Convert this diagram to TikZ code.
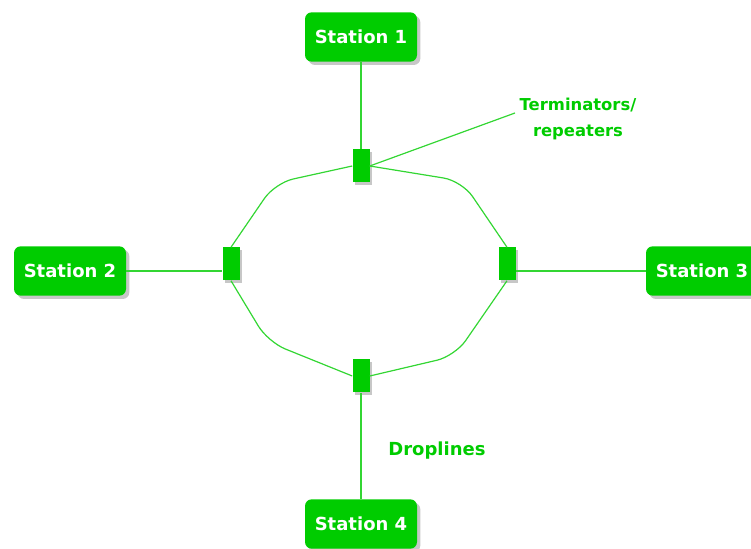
\documentclass[tikz,border=0pt]{standalone}
\usepackage{fontspec}
\setmainfont{DejaVu Sans}
\usetikzlibrary{shadows}
\definecolor{netgreen}{HTML}{00CC00}
\definecolor{wiregreen}{HTML}{33D633}
\begin{document}
\begin{tikzpicture}[x=0.75pt,y=-0.75pt,
    station/.style={rectangle,rounded corners=5pt,fill=netgreen,text=white,
      font=\bfseries\fontsize{13.5}{16}\selectfont,minimum width=84pt,minimum height=37pt,
      drop shadow={shadow xshift=2.5pt,shadow yshift=-2.5pt,fill=black!22,opacity=1}},
    term/.style={rectangle,fill=netgreen,inner sep=0pt,minimum width=12.75pt,minimum height=24.75pt,
      drop shadow={shadow xshift=2pt,shadow yshift=-2pt,fill=black!22,opacity=1}},
    wire/.style={draw=wiregreen,line width=0.9pt},
    lbl/.style={text=netgreen,font=\bfseries\fontsize{13.5}{17}\selectfont,align=center}]
  \useasboundingbox (0,0) rectangle (751,549);
  % stations
  \node[station] (s1) at (361,37) {Station 1};
  \node[station] (s2) at (70,271) {Station 2};
  \node[station] (s3) at (702,271) {Station 3};
  \node[station] (s4) at (361,524) {Station 4};
  % terminators
  \node[term] (t1) at (361,166) {};
  \node[term] (t2) at (231,264) {};
  \node[term] (t3) at (507,264) {};
  \node[term] (t4) at (361,376) {};
  % ring
  \draw[wire,rounded corners=14pt] (t1.west) -- (275,183) -- (t2.north);
  \draw[wire,rounded corners=14pt] (t1.east) -- (462,181) -- (t3.north);
  \draw[wire,rounded corners=14pt] (t2.south) -- (268,342) -- (t4.west);
  \draw[wire,rounded corners=14pt] (t3.south) -- (455,356) -- (t4.east);
  % droplines
  \draw[wire] (s1) -- (t1);
  \draw[wire] (s2.east) -- (t2.west |- s2.east);
  \draw[wire] (t3.east |- s3.west) -- (s3.west);
  \draw[wire] (t4) -- (s4);
  % labels
  \node[lbl,font=\bfseries\fontsize{12.3}{20}\selectfont] (rep) at (578,119) {Terminators/\\repeaters};
  \node[lbl] (drop) at (437,451) {Droplines};
  \coordinate (reptip) at (515,113);
  \draw[wire] (t1.east) -- (reptip);
\end{tikzpicture}
\end{document}
